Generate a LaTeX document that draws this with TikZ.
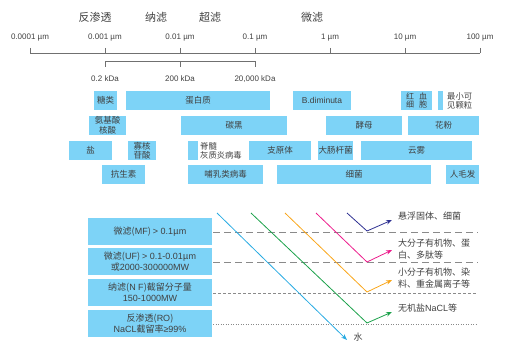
\documentclass[tikz,border=0pt]{standalone}
\usepackage{fontspec}
\setmainfont{Noto Sans CJK SC}
\newfontfamily\lat{Liberation Sans}
\usetikzlibrary{arrows.meta}
\definecolor{boxblue}{HTML}{7DD3F7}
\definecolor{txt}{HTML}{404040}
\definecolor{axc}{HTML}{707070}
\definecolor{lwater}{HTML}{29ABE2}
\definecolor{lgreen}{HTML}{1BA14A}
\definecolor{lorange}{HTML}{F9A61A}
\definecolor{lmag}{HTML}{EC1C8C}
\definecolor{lnavy}{HTML}{2E3192}
\definecolor{dashc}{HTML}{8A8A8A}
\begin{document}
\begin{tikzpicture}[x=1pt,y=-1pt,
  bx/.style={fill=boxblue, draw=none, inner sep=0pt, text=txt, align=center, font=\fontsize{8.5}{9.5}\selectfont},
  lbx/.style={fill=boxblue, draw=none, inner sep=0pt, text=txt, align=center, font=\fontsize{9}{11}\selectfont, minimum width=124pt, minimum height=27pt},
  axlab/.style={text=txt, font=\lat\fontsize{8}{9}\selectfont, inner sep=0pt},
  toplab/.style={text=txt, font=\fontsize{11}{12}\selectfont, inner sep=0pt},
  side/.style={text=txt, font=\fontsize{8.3}{9}\selectfont, inner sep=0pt, anchor=west, align=left},
  rlab/.style={text=txt, font=\fontsize{9}{11.5}\selectfont, inner sep=0pt, anchor=west, align=left},
  axline/.style={draw=axc, line width=0.6pt},
  sep/.style={draw=dashc, line width=0.7pt},
  flow/.style={line width=0.8pt, -{Stealth[length=6pt,width=4.5pt]}}
]
\useasboundingbox (0,0) rectangle (519,350);

% top titles
\node[toplab] (t1) at (95,17) {反渗透};
\node[toplab] (t2) at (156,17) {纳滤};
\node[toplab] (t3) at (210,17) {超滤};
\node[toplab] (t4) at (312,17) {微滤};

% axis
\coordinate (a0) at (30,53);
\coordinate (a6) at (480,53);
\draw[axline] (a0) -- (a6);
\foreach \x/\l in {30/0.0001 µm,105/0.001 µm,180/0.01 µm,255/0.1 µm,330/1 µm,405/10 µm,480/100 µm}{
  \draw[axline] (\x,48) -- (\x,53);
  \node[axlab] at (\x,38) {\l};
}
% kDa bracket
\coordinate (k0) at (105,61);
\coordinate (k2) at (255,61);
\draw[axline] (105,67) -- (k0) -- (k2) -- (255,67);
\draw[axline] (180,61) -- (180,67);
\node[axlab] (kd1) at (105,79) {0.2 kDa};
\node[axlab] (kd2) at (180,79) {200 kDa};
\node[axlab] (kd3) at (255,79) {20,000 kDa};

% row 1
\node[bx, minimum width=23pt, minimum height=19pt] (r1a) at (105.5,100.5) {糖类};
\node[bx, minimum width=144pt, minimum height=19pt] (r1b) at (198,100.5) {蛋白质};
\node[bx, minimum width=58pt, minimum height=19pt, font=\lat\fontsize{8.5}{9.5}\selectfont] (r1c) at (322,100.5) {B.diminuta};
\node[bx, minimum width=31pt, minimum height=19pt, font=\fontsize{8}{8.5}\selectfont] (r1d) at (416.5,100.5) {红\hspace{5pt}血\\细\hspace{5pt}胞};
\node[bx, minimum width=5pt, minimum height=19pt] (r1e) at (440.5,100.5) {};
\node[side] (r1f) at (447,100.5) {最小可\\见颗粒};
% row 2
\node[bx, minimum width=37pt, minimum height=19pt] (r2a) at (107.5,125.5) {氨基酸\\核酸};
\node[bx, minimum width=106pt, minimum height=19pt] (r2b) at (234,125.5) {碳黑};
\node[bx, minimum width=76pt, minimum height=19pt] (r2c) at (364,125.5) {酵母};
\node[bx, minimum width=71pt, minimum height=19pt] (r2d) at (443.5,125.5) {花粉};
% row 3
\node[bx, minimum width=43pt, minimum height=19pt] (r3a) at (90.5,150.5) {盐};
\node[bx, minimum width=28pt, minimum height=19pt] (r3b) at (142,150.5) {寡核\\苷酸};
\node[bx, minimum width=10pt, minimum height=19pt] (r3c) at (193,150.5) {};
\node[side] (r3d) at (200,150.5) {脊髓\\灰质炎病毒};
\node[bx, minimum width=62pt, minimum height=19pt] (r3e) at (280,150.5) {支原体};
\node[bx, minimum width=35pt, minimum height=19pt] (r3f) at (335.5,150.5) {大肠杆菌};
\node[bx, minimum width=111pt, minimum height=19pt] (r3g) at (416.5,150.5) {云雾};
% row 4
\node[bx, minimum width=43pt, minimum height=19pt] (r4a) at (123.5,174.5) {抗生素};
\node[bx, minimum width=75pt, minimum height=19pt] (r4b) at (225.5,174.5) {哺乳类病毒};
\node[bx, minimum width=154pt, minimum height=19pt] (r4c) at (354,174.5) {细菌};
\node[bx, minimum width=33pt, minimum height=19pt] (r4d) at (462.5,174.5) {人毛发};

% left process boxes
\node[lbx] (p1) at (150,231.5) {微滤({\lat MF}) {\lat > 0.1}μ{\lat m}};
\node[lbx] (p2) at (150,261.5) {微滤({\lat UF}) {\lat > 0.1-0.01}μ{\lat m}\\或{\lat 2000-300000MW}};
\node[lbx] (p3) at (150,292.5) {纳滤({\lat N F})截留分子量\\{\lat 150-1000MW}};
\node[lbx] (p4) at (150,323.5) {反渗透({\lat RO})\\{\lat NaCL}截留率{\lat ≥99\%}};

% separators
\coordinate (s1e) at (478,232);
\coordinate (s2e) at (478,262);
\coordinate (s3e) at (478,293);
\coordinate (s4e) at (478,324);
\draw[sep, dash pattern=on 7pt off 4pt] (p1.east) ++(1,0.5) -- (s1e);
\draw[sep, dash pattern=on 7pt off 4pt] (p2.east) ++(1,0.5) -- (s2e);
\draw[sep, line width=0.6pt, dash pattern=on 3pt off 2pt] (p3.east) ++(1,0.5) -- (s3e);
\draw[sep, line width=0.6pt, dash pattern=on 1pt off 1.5pt] (p4.east) ++(1,0.5) -- (s4e);

% flows
\coordinate (w0) at (217,213); \coordinate (w1) at (347,340);
\coordinate (g0) at (251,213); \coordinate (g1) at (367,323); \coordinate (g2) at (392,312);
\coordinate (o0) at (285,213); \coordinate (o1) at (367,292); \coordinate (o2) at (392,280);
\coordinate (m0) at (316,213); \coordinate (m1) at (367,262); \coordinate (m2) at (392,250);
\coordinate (n0) at (347,213); \coordinate (n1) at (367,231); \coordinate (n2) at (392,220);
\draw[flow, lwater] (w0) -- (w1);
\draw[flow, lgreen] (g0) -- (g1) -- (g2);
\draw[flow, lorange] (o0) -- (o1) -- (o2);
\draw[flow, lmag] (m0) -- (m1) -- (m2);
\draw[flow, lnavy] (n0) -- (n1) -- (n2);

% right labels
\node[rlab] (l1) at (398,216) {悬浮固体、细菌};
\node[rlab] (l2) at (398,249) {大分子有机物、蛋\\白、多肽等};
\node[rlab] (l3) at (398,278) {小分子有机物、染\\料、重金属离子等};
\node[rlab] (l4) at (398,308) {无机盐{\lat NaCL}等};
\node[text=txt, font=\fontsize{9}{10}\selectfont, inner sep=0pt] (wl) at (358,337) {水};
\end{tikzpicture}
\end{document}
